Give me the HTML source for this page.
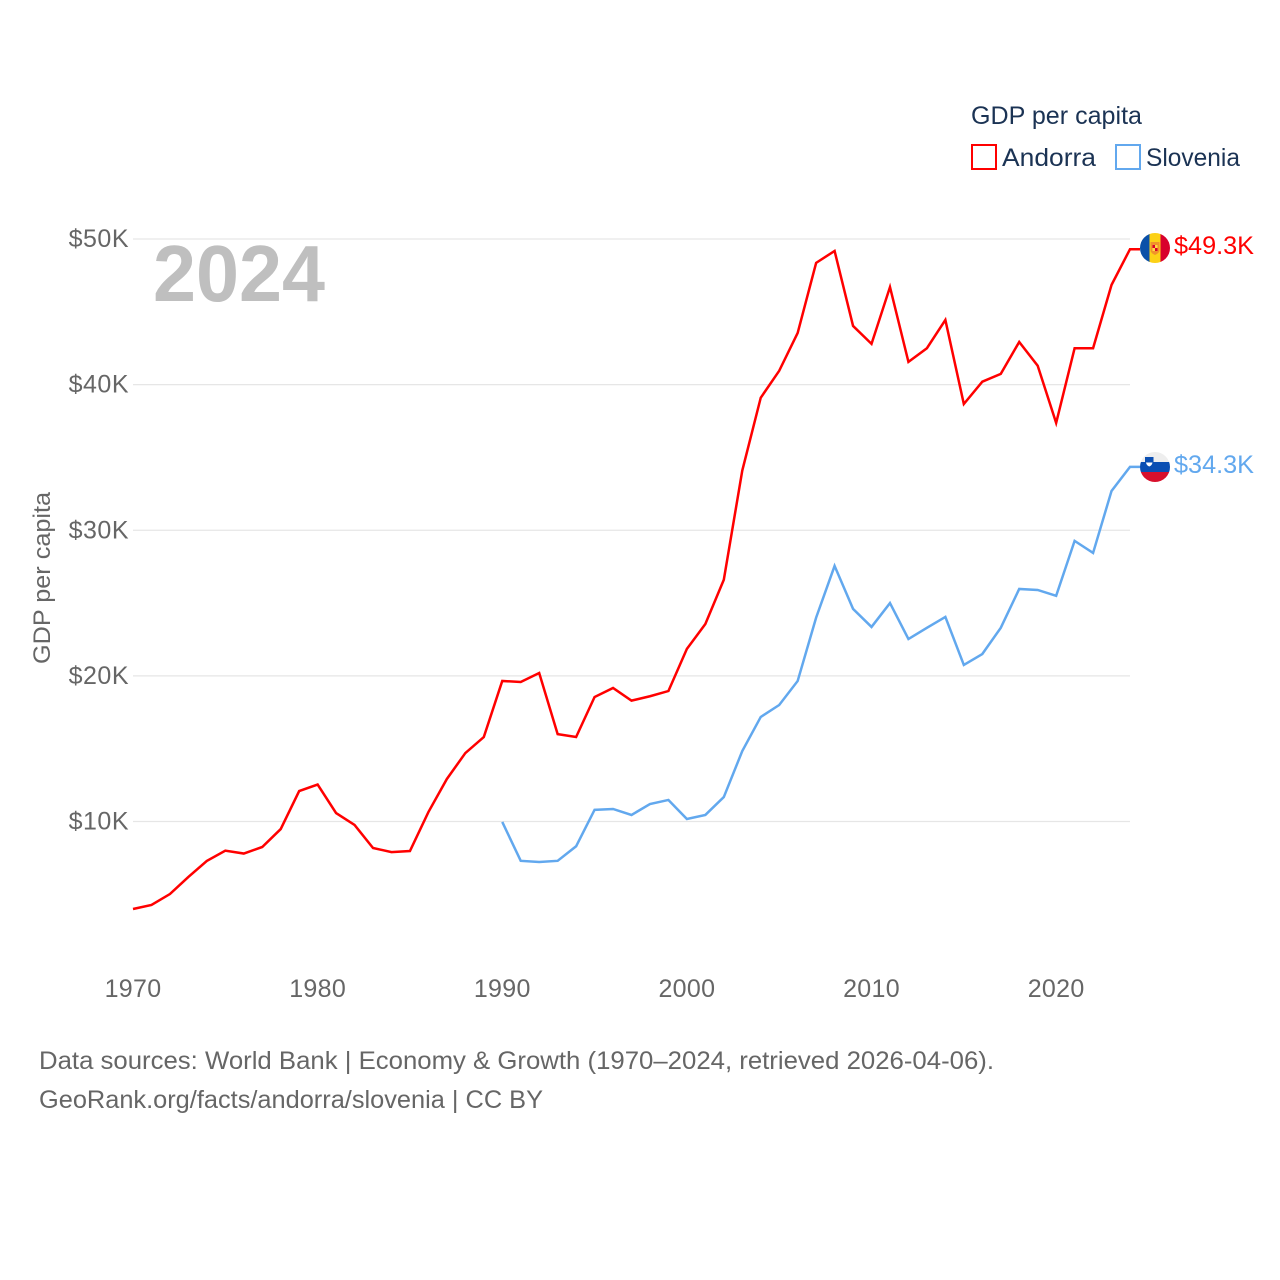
<!DOCTYPE html>
<html lang="en">
<head>
<meta charset="utf-8">
<title>GDP per capita: Andorra and Slovenia</title>
<style>
html,body{margin:0;padding:0;background:#fff;}
svg{display:block;font-family:"Liberation Sans",sans-serif;}
</style>
</head>
<body>
<svg id="chart" xmlns="http://www.w3.org/2000/svg" width="1280" height="1280" viewBox="0 0 1280 1280">
  <rect width="1280" height="1280" fill="#ffffff"/>
  <g id="grid"></g>
  <g id="yticks"></g>
  <g id="xticks"></g>
  <text x="153" y="301" font-size="80" font-weight="700" fill="#bfbfbf" textLength="172" lengthAdjust="spacingAndGlyphs">2024</text>
  <text transform="translate(50,578) rotate(-90)" text-anchor="middle" font-size="24" fill="#666666" textLength="172" lengthAdjust="spacingAndGlyphs">GDP per capita</text>
  <g id="series"></g>

  <g>
    <text x="971" y="124" font-size="25" fill="#1b3354" textLength="171" lengthAdjust="spacingAndGlyphs">GDP per capita</text>
    <rect x="972" y="145" width="24" height="24" fill="none" stroke="#ff0000" stroke-width="2"/>
    <text x="1002" y="166" font-size="25" fill="#1b3354" textLength="94" lengthAdjust="spacingAndGlyphs">Andorra</text>
    <rect x="1116" y="145" width="24" height="24" fill="none" stroke="#62a8ee" stroke-width="2"/>
    <text x="1146" y="166" font-size="25" fill="#1b3354" textLength="94" lengthAdjust="spacingAndGlyphs">Slovenia</text>
  </g>

  <defs>
    <clipPath id="clip-ad"><circle cx="1155" cy="248" r="15"/></clipPath>
    <clipPath id="clip-si"><circle cx="1155" cy="467" r="15"/></clipPath>
  </defs>
  <g clip-path="url(#clip-ad)">
    <rect x="1140" y="233" width="9.500" height="30" fill="#0a50a8"/>
    <rect x="1149.500" y="233" width="11" height="30" fill="#fcd116"/>
    <rect x="1160.500" y="233" width="9.500" height="30" fill="#d8002c"/>
    <path d="M1150.500 242h9v8q0 3-4.500 5q-4.500-2-4.500-5z" fill="#f0932b"/>
    <rect x="1152.500" y="245" width="2.500" height="3" fill="#d8002c"/>
    <rect x="1155" y="245" width="2.500" height="3" fill="#ffda44"/>
    <rect x="1152.500" y="248" width="2.500" height="3" fill="#ffda44"/>
    <rect x="1155" y="248" width="2.500" height="3" fill="#d8002c"/>
  </g>
  <g clip-path="url(#clip-si)">
    <rect x="1140" y="452" width="30" height="10" fill="#eeeeee"/>
    <rect x="1140" y="462" width="30" height="10" fill="#0b4fb3"/>
    <rect x="1140" y="472" width="30" height="10" fill="#d8102c"/>
    <path d="M1145 457h8.500v6q0 2.500-4.250 4.500q-4.250-2-4.250-4.500z" fill="#0b4fb3"/>
    <path d="M1146 462.500h6.500q-.5 3-3.250 4q-2.750-1-3.250-4z" fill="#ffffff"/>
  </g>
  <text x="1174" y="254" font-size="25" fill="#ff0000" textLength="80" lengthAdjust="spacingAndGlyphs">$49.3K</text>
  <text x="1174" y="473" font-size="25" fill="#62a8ee" textLength="80" lengthAdjust="spacingAndGlyphs">$34.3K</text>

  <text x="39" y="1069" font-size="25" fill="#666666" textLength="955" lengthAdjust="spacingAndGlyphs">Data sources: World Bank | Economy &amp; Growth (1970–2024, retrieved 2026-04-06).</text>
  <text x="39" y="1108" font-size="25" fill="#666666" textLength="504" lengthAdjust="spacingAndGlyphs">GeoRank.org/facts/andorra/slovenia | CC BY</text>
</svg>
<script>
var andorraStartYear = 1970;
var andorraValues = [3.99,4.27,5.02,6.19,7.29,8.0,7.8,8.25,9.48,12.09,12.54,10.58,9.76,8.18,7.9,7.97,10.65,12.92,14.7,15.8,19.65,19.58,20.2,16.0,15.8,18.55,19.17,18.3,18.6,18.96,21.85,23.56,26.6,34.1,39.1,40.95,43.55,48.36,49.18,44.03,42.8,46.7,41.56,42.5,44.44,38.67,40.2,40.74,42.93,41.3,37.37,42.5,42.5,46.85,49.3];
var sloveniaStartYear = 1990;
var sloveniaValues = [9.97,7.3,7.22,7.3,8.3,10.8,10.86,10.45,11.2,11.48,10.17,10.45,11.68,14.84,17.18,18.0,19.65,24.0,27.55,24.6,23.36,25.0,22.53,23.3,24.05,20.75,21.5,23.3,25.97,25.9,25.5,29.27,28.44,32.7,34.35];
var yTickValues = [10,20,30,40,50];
var yTickLabels = ["$10K","$20K","$30K","$40K","$50K"];
var xTickValues = [1970,1980,1990,2000,2010,2020];
var xTickLabels = ["1970","1980","1990","2000","2010","2020"];

var SVGNS = 'http://www.w3.org/2000/svg';
function xScale(year){ return 133 + (year - 1970) * (1130 - 133) / 54; }
function yScale(v){ return 821.5 - (v - 10) * (821.5 - 239) / 40; }

var grid = document.getElementById('grid');
var yticks = document.getElementById('yticks');
var xticks = document.getElementById('xticks');
var seriesGroup = document.getElementById('series');

yTickValues.forEach(function(v, i){
  var line = document.createElementNS(SVGNS, 'line');
  
  
  line.setAttribute('x1', 133);
  line.setAttribute('x2', 1130);
  line.setAttribute('y1', yScale(v));
  line.setAttribute('y2', yScale(v));
  line.setAttribute('stroke', '#e6e6e6');
  line.setAttribute('stroke-width', 1.2);
  grid.appendChild(line);

  var t = document.createElementNS(SVGNS, 'text');
  
  
  t.setAttribute('x', 129);
  t.setAttribute('y', yScale(v) + 8);
  t.setAttribute('text-anchor', 'end');
  t.setAttribute('font-size', 25);
  t.setAttribute('letter-spacing', 0.5);
  t.setAttribute('fill', '#666666');
  t.textContent = yTickLabels[i];
  yticks.appendChild(t);
});

xTickValues.forEach(function(year, i){
  var t = document.createElementNS(SVGNS, 'text');
  
  
  t.setAttribute('x', xScale(year));
  t.setAttribute('y', 997);
  t.setAttribute('text-anchor', 'middle');
  t.setAttribute('font-size', 25);
  t.setAttribute('letter-spacing', 0.3);
  t.setAttribute('fill', '#666666');
  t.textContent = xTickLabels[i];
  xticks.appendChild(t);
});

function drawSeries(values, startYear, color){
  var pts = values.map(function(v, i){
    return xScale(startYear + i).toFixed(2) + ',' + yScale(v).toFixed(2);
  });
  var lastY = yScale(values[values.length - 1]);
  var lastX = xScale(startYear + values.length - 1);
  pts.push((lastX + 10).toFixed(2) + ',' + lastY.toFixed(2));
  var line = document.createElementNS(SVGNS, 'polyline');
  line.setAttribute('points', pts.join(' '));
  line.setAttribute('fill', 'none');
  line.setAttribute('stroke', color);
  line.setAttribute('stroke-width', 2.5);
  line.setAttribute('stroke-linejoin', 'miter');
  seriesGroup.appendChild(line);
  return line;
}
var andorraLine = drawSeries(andorraValues, andorraStartYear, '#ff0000');


var sloveniaLine = drawSeries(sloveniaValues, sloveniaStartYear, '#62a8ee');


</script>
</body>
</html>
